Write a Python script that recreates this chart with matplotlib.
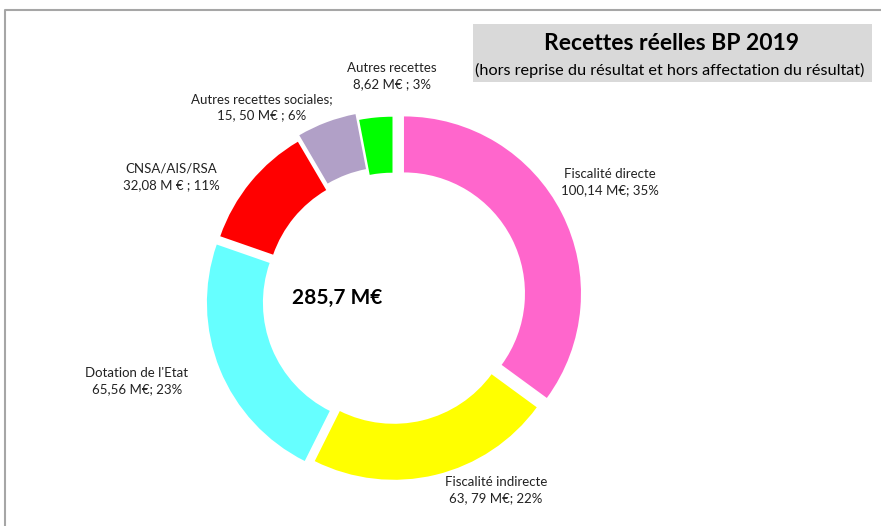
import matplotlib.pyplot as plt

# Données du graphique (M€)
categories = ['Fiscalité directe', 'Fiscalité indirecte', "Dotation de l'Etat",
              'CNSA/AIS/RSA', 'Autres recettes sociales', 'Autres recettes']
valeurs = [100.14, 63.79, 65.56, 32.08, 15.50, 8.62]
etiquettes = ['Fiscalité directe\n100,14 M€; 35%',
              'Fiscalité indirecte\n63, 79 M€; 22%',
              "Dotation de l'Etat\n65,56 M€; 23%",
              'CNSA/AIS/RSA\n32,08 M € ; 11%',
              'Autres recettes sociales;\n15, 50 M€ ; 6%',
              'Autres recettes\n8,62 M€ ; 3%']
total = '285,7 M€'
titre = 'Recettes réelles BP 2019'
sous_titre = '(hors reprise du résultat et hors affectation du résultat)'

# Style
couleurs = ['#FF66CC', '#FFFF00', '#66FFFF', '#FF0000', '#B1A0C7', '#00FF00']
explosion = [12.3, 3.9, 9.8, 7.2, 11.8, 5.3]  # décalage en pixels
pos_etiquettes = [(610, 182), (496, 490), (137, 381), (171, 177), (262, 107), (392, 76)]
police = ['Lato', 'DejaVu Sans']

fig = plt.figure(figsize=(8.81, 5.26), dpi=100)
ax = fig.add_axes([0, 0, 1, 1])

# Anneau (coordonnées en pixels, axe y inversé)
ax.pie(valeurs, colors=couleurs, explode=explosion, center=(393, 299), radius=177,
       startangle=270, counterclock=True,
       wedgeprops=dict(width=56, linewidth=0))

ax.set_xlim(0, 881)
ax.set_ylim(526, 0)
ax.axis('off')

# Étiquettes des secteurs
for txt, (x, y) in zip(etiquettes, pos_etiquettes):
    ax.text(x, y, txt, ha='center', va='center', fontsize=9.5, family=police,
            linespacing=1.45, color='#222222')

# Total au centre
ax.text(337, 298, total, ha='center', va='center', fontsize=15, fontweight='bold',
        family=police)

# Cadre du titre
ax.add_patch(plt.Rectangle((473, 24), 399, 58, facecolor='#D9D9D9', edgecolor='none'))
ax.text(671, 44, titre, ha='center', va='center', fontsize=16.5, fontweight='bold',
        family=police)
ax.text(670, 70, sous_titre, ha='center', va='center', fontsize=11.7, family=police)

# Bordure de la zone de graphique
ax.plot([5, 5, 881], [526, 10, 10], color='#A6A6A6', linewidth=1.5)

fig.savefig('out.png', dpi=100)
